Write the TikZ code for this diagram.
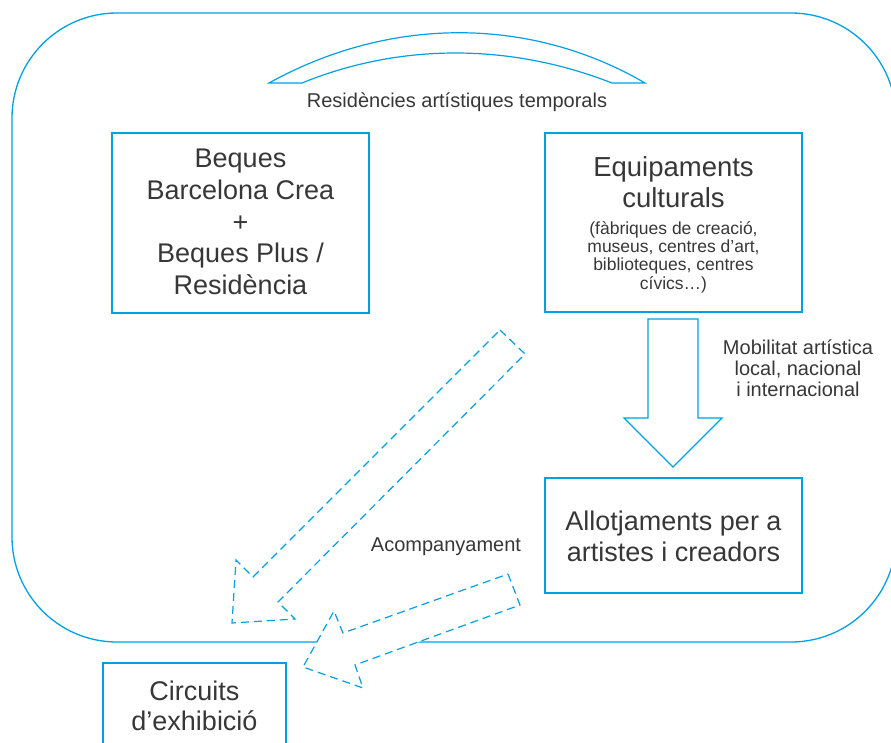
\documentclass[tikz,border=0pt]{standalone}
\usepackage{fontspec}
\setmainfont{Liberation Sans}
\definecolor{cyanline}{RGB}{0,160,227}
\definecolor{txt}{RGB}{55,55,55}
\begin{document}
\begin{tikzpicture}[x=1pt,y=-1pt,
  blue box/.style={draw=cyanline,line width=1.4pt,minimum width=257pt,inner sep=0pt},
  solid shape/.style={draw=cyanline,line width=1.2pt,fill=white,line join=miter},
  dash shape/.style={draw=cyanline,line width=1.2pt,fill=white,dash pattern=on 8pt off 5pt},
  big text/.style={text=txt,align=center,font=\fontsize{27}{31.8}\selectfont,inner sep=0pt},
  small text/.style={text=txt,align=center,font=\fontsize{17.5}{18.3}\selectfont,inner sep=0pt},
  mid text/.style={text=txt,align=center,font=\fontsize{20}{21}\selectfont,inner sep=0pt}]
\useasboundingbox (0,0) rectangle (891,742);
% outer rounded frame
\draw[cyanline,line width=1.3pt,rounded corners=105pt] (12,13) rectangle (896,642);
% top bridge
\draw[solid shape] (269,83) .. controls (390,16) and (530,16) .. (645,83) -- (612,83)
  .. controls (510,43) and (400,43) .. (302,83) -- cycle;
\node[mid text] (res) at (457,102) {Residències artístiques temporals};
% boxes
\node[blue box,minimum height=180pt] (beques) at (240.5,223) {};
\node[big text] (bequestxt) at (240.5,222) {Beques\\Barcelona Crea\\+\\Beques Plus /\\Residència};
\node[blue box,minimum height=179pt] (equip) at (673.5,222.5) {};
\node[big text,font=\fontsize{27.5}{31}\selectfont] (equiptxt) at (673.5,182) {Equipaments\\culturals};
\node[small text] (equipsub) at (673.5,257) {(fàbriques de creació,\\museus, centres d’art,\\biblioteques, centres\\cívics…)};
\node[blue box,minimum height=115pt] (allot) at (673.5,535.5) {};
\node[big text,font=\fontsize{27}{31}\selectfont] (allottxt) at (673.5,536) {Allotjaments per a\\artistes i creadors};
\node[blue box,minimum width=183pt,minimum height=100pt] (circ) at (194.5,713) {};
\node[big text,font=\fontsize{27}{30}\selectfont] (circtxt) at (194.5,706) {Circuits\\d’exhibició};
% solid down arrow
\draw[solid shape] (648,319) -- (698,319) -- (698,418) -- (722,418) -- (673,467)
  -- (624,418) -- (648,418) -- cycle;
\node[mid text] (mob) at (798,368) {Mobilitat artística\\local, nacional\\i internacional};
% dashed arrow 1
\draw[dash shape] (500,330) -- (525,354) -- (278,602) -- (295,619) -- (232,623)
  -- (236,560) -- (253,577) -- cycle;
\node[mid text] (acomp) at (446,547) {Acompanyament};
% dashed arrow 2
\draw[dash shape] (508,574) -- (520,605) -- (355,665) -- (363,688) -- (303,667)
  -- (334,611) -- (343,633) -- cycle;
\end{tikzpicture}
\end{document}
